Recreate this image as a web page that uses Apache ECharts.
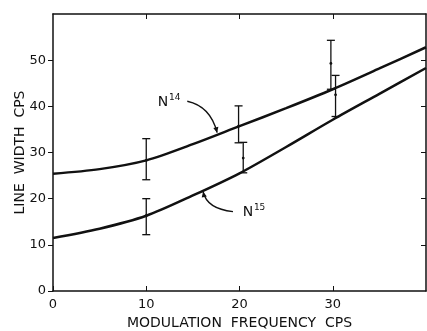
<!DOCTYPE html>
<html>
<head>
<meta charset="utf-8">
<script src="https://cdn.jsdelivr.net/npm/echarts@6/dist/echarts.min.js"></script>
<style>
  html, body { margin: 0; padding: 0; background: #fff; }
  #chart { width: 427px; height: 331px; }
</style>
</head>
<body>
<div id="chart"></div>
<script>
// curve samples
const xCurve = [0, 5, 10, 15, 20, 25, 30, 35, 40];
const n14 = [25.4, 26.4, 28.3, 31.8, 35.7, 39.6, 43.7, 48.2, 52.8];
const n15 = [11.5, 13.5, 16.3, 20.7, 25.5, 31.2, 37.1, 42.7, 48.3];

// error bars
const n14X = [10, 19.9, 29.8];
const n14Low = [24.1, 32.1, 43.7];
const n14High = [33.0, 40.1, 54.3];
const n14Mid = [28.3, 35.7, 49.3];
const n15X = [10, 20.4, 30.3];
const n15Low = [12.2, 25.6, 37.8];
const n15High = [20.0, 32.2, 46.7];
const n15Mid = [16.3, 28.8, 42.5];

const xTicks = [0, 10, 20, 30];
const yTicks = [0, 10, 20, 30, 40, 50];

const font = 'DejaVu Sans';
const ink = '#111';

var myChart = echarts.init(document.getElementById('chart'));

function errData(xs, lo, hi, mid) {
  return xs.map((x, i) => [x, lo[i], hi[i], mid[i]]);
}

function errItem(params, api) {
  const lo = api.coord([api.value(0), api.value(1)]);
  const hi = api.coord([api.value(0), api.value(2)]);
  const md = api.coord([api.value(0), api.value(3)]);
  const w = 4;
  const st = { stroke: ink, lineWidth: 1.3 };
  return {
    type: 'group',
    children: [
      { type: 'line', shape: { x1: lo[0], y1: lo[1], x2: hi[0], y2: hi[1] }, style: st },
      { type: 'line', shape: { x1: hi[0] - w, y1: hi[1], x2: hi[0] + w, y2: hi[1] }, style: st },
      { type: 'line', shape: { x1: lo[0] - w, y1: lo[1], x2: lo[0] + w, y2: lo[1] }, style: st },
      { type: 'circle', shape: { cx: md[0], cy: md[1], r: 1.4 }, style: { fill: ink } }
    ]
  };
}

const frameLine = { onZero: false, lineStyle: { color: ink, width: 1.5 } };

var option = {
  animation: false,
  backgroundColor: '#fff',
  textStyle: { fontFamily: font, color: ink },
  grid: { left: 53, right: 1, top: 14, bottom: 40, containLabel: false, outerBoundsMode: 'none' },
  xAxis: [
    {
      type: 'value', min: 0, max: 40, interval: 10,
      axisLine: frameLine,
      axisTick: { inside: true, length: 5, customValues: xTicks, lineStyle: { color: ink } },
      splitLine: { show: false },
      axisLabel: { fontSize: 13, color: ink, margin: 7, customValues: xTicks },
      name: 'MODULATION  FREQUENCY  CPS',
      nameLocation: 'middle', nameGap: 25, nameMoveOverlap: false,
      nameTextStyle: { fontSize: 14, color: ink, fontFamily: font }
    },
    {
      type: 'value', position: 'top', min: 0, max: 40, interval: 10,
      axisLine: frameLine,
      axisTick: { inside: true, length: 5, customValues: [10, 20, 30], lineStyle: { color: ink } },
      axisLabel: { show: false },
      splitLine: { show: false }
    }
  ],
  yAxis: [
    {
      type: 'value', min: 0, max: 60, interval: 10,
      axisLine: frameLine,
      axisTick: { length: 5, customValues: yTicks, lineStyle: { color: ink } },
      splitLine: { show: false },
      axisLabel: { fontSize: 13, color: ink, margin: 7, customValues: yTicks },
      name: 'LINE  WIDTH  CPS',
      nameLocation: 'middle', nameGap: 26, nameRotate: 90, nameMoveOverlap: false,
      nameTextStyle: { fontSize: 14, color: ink, fontFamily: font }
    },
    {
      type: 'value', position: 'right', min: 0, max: 60, interval: 10,
      axisLine: frameLine,
      axisTick: { inside: true, length: 5, customValues: [10, 20, 30, 40, 50], lineStyle: { color: ink } },
      axisLabel: { show: false },
      splitLine: { show: false }
    }
  ],
  series: [
    {
      name: 'N14', type: 'line', smooth: 0.3, showSymbol: false,
      data: xCurve.map((x, i) => [x, n14[i]]),
      lineStyle: { color: ink, width: 2.5 }
    },
    {
      name: 'N15', type: 'line', smooth: 0.3, showSymbol: false,
      data: xCurve.map((x, i) => [x, n15[i]]),
      lineStyle: { color: ink, width: 2.5 }
    },
    {
      name: 'N14 err', type: 'custom', renderItem: errItem,
      data: errData(n14X, n14Low, n14High, n14Mid), z: 3
    },
    {
      name: 'N15 err', type: 'custom', renderItem: errItem,
      data: errData(n15X, n15Low, n15High, n15Mid), z: 3
    }
  ]
};

myChart.setOption(option);

// annotations: labels and curved arrows, placed in data coordinates
function px(p) { return myChart.convertToPixel({ xAxisIndex: 0, yAxisIndex: 0 }, p); }

function arrow(from, ctrl, tip) {
  const a = px(from), c = px(ctrl), t = px(tip);
  const ang = Math.atan2(t[1] - c[1], t[0] - c[0]);
  const L = 6, s = 0.45;
  return [
    { type: 'bezierCurve', shape: { x1: a[0], y1: a[1], x2: t[0], y2: t[1], cpx1: c[0], cpy1: c[1] },
      style: { stroke: ink, lineWidth: 1.3, fill: null } },
    { type: 'polygon', shape: { points: [
        t,
        [t[0] - L * Math.cos(ang - s), t[1] - L * Math.sin(ang - s)],
        [t[0] - L * Math.cos(ang + s), t[1] - L * Math.sin(ang + s)]
      ] }, style: { fill: ink } }
  ];
}

function label(p, sup) {
  const q = px(p);
  return [
    { type: 'text', x: q[0], y: q[1], style: { text: 'N', font: '14px ' + font, fill: ink, align: 'center', verticalAlign: 'middle' } },
    { type: 'text', x: q[0] + 6, y: q[1] - 5, style: { text: sup, font: '9px ' + font, fill: ink, align: 'left', verticalAlign: 'middle' } }
  ];
}

myChart.setOption({
  graphic: [].concat(
    label([11.8, 40.9], '14'),
    arrow([14.4, 41.1], [16.9, 40.0], [17.6, 34.3]),
    label([20.9, 17.0], '15'),
    arrow([19.3, 17.2], [16.5, 17.8], [16.1, 21.5])
  )
});
</script>
</body>
</html>
